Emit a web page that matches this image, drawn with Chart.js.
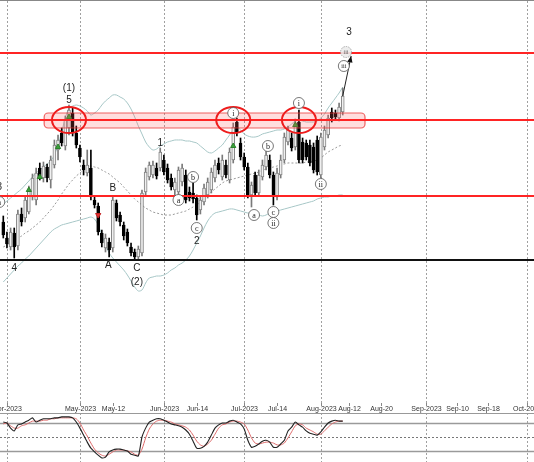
<!DOCTYPE html>
<html>
<head>
<meta charset="utf-8">
<script src="https://cdn.jsdelivr.net/npm/chart.js@4.4.0/dist/chart.umd.min.js"></script>
<style>
  html, body { margin: 0; padding: 0; background: #fff; overflow: hidden; }
  #wrap { position: relative; width: 534px; height: 462px; }
  #main { position: absolute; left: 0; top: 0; }
  #osc { position: absolute; left: 0; top: 413px; }
</style>
</head>
<body>
<div id="wrap">
  <canvas id="main" width="534" height="413"></canvas>
  <canvas id="osc" width="534" height="49"></canvas>
</div>
<script>
// daily candles, price in chart units (no price scale shown in the picture)
var openV  = [181,165,156,170,157,189,185,191,206,203, 235,225,236,223,238,253,270,257,275,290,
              270,255,238,230,235,203,197,170,155,161, 155,200,188,178,171,156,151,146,150,211,
              226,228,235,235,243,235,225,213,211,221, 228,211,210,205,193,201,208,213,225,240,
              226,238,223,243,281,260,246,236,208,228, 210,226,236,243,228,206,228,243,261,265,
              256,281,261,260,258,256,263,228,256,268, 291,290,285,291];
var highV  = [187,171,175,175,193,195,207,217,229,235, 240,241,239,247,263,268,275,287,298,295,
              277,258,243,253,253,206,200,173,169,165, 207,203,191,181,174,160,154,157,213,235,
              241,242,240,255,248,239,229,225,236,239, 233,216,220,208,207,219,225,235,243,245,
              248,243,255,280,285,265,250,240,221,231, 233,243,253,248,231,235,248,270,277,270,
              284,293,265,263,263,260,267,270,277,288, 295,293,300,315];
var lowV   = [165,155,153,145,153,177,181,189,203,198, 223,221,221,215,235,243,257,253,268,267,
              255,241,228,227,203,195,168,156,151,146, 151,182,177,163,157,147,143,143,147,208,
              223,225,224,232,228,220,213,208,207,217, 200,202,200,183,189,198,205,210,221,229,
              223,225,220,240,267,243,233,205,196,207, 207,223,233,225,198,203,225,240,258,252,
              253,240,240,243,237,230,228,225,253,265, 281,283,282,288];
var closeV = [168,159,171,156,189,181,203,213,225,230, 227,237,225,243,258,263,260,283,293,270,
              258,246,233,238,206,198,171,160,165,153, 203,185,181,167,160,150,146,154,210,231,
              238,238,227,251,231,223,216,221,233,235, 203,205,204,188,203,215,221,231,238,233,
              243,228,251,276,271,246,236,208,218,210, 228,238,248,228,208,230,243,266,273,255,
              280,243,243,246,240,233,231,266,273,285, 285,286,296,307];

// bollinger bands
var bbUpper  = [199,202,205,208,211,214,218,222,226,230, 233,236,239,242,248,258,271,285,295,297,
                298,297,295,292,288,290,293,298,302,305, 308,308,306,304,300,294,286,277,269,261,
                256,253,254,257,259,261,262,263,263,263, 262,262,261,260,257,254,251,250,252,255,
                258,263,268,273,276,273,269,267,266,266, 267,269,270,271,272,273,273,274,276,279,
                282,283,282,281,281,281,282,285,289,295, 300,305,310,316];
var bbMiddle = [156,158,160,162,165,167,170,172,175,178, 181,185,189,193,198,203,209,214,219,223,
                227,230,233,236,237,236,235,233,231,229, 226,223,220,216,212,208,204,201,198,195,
                193,191,190,189,188,188,188,189,190,191, 192,194,196,198,201,205,208,211,214,217,
                220,222,223,224,225,226,227,228,229,230, 231,233,234,235,236,237,238,239,240,240,
                240,240,240,241,241,242,243,245,248,251, 253,255,257,258];
var bbLower  = [121,125,129,133,137,140,144,147,151,155, 159,163,167,171,174,176,178,179,180,181,
                182,183,184,185,186,184,178,168,158,150, 145,141,137,133,128,122,116,112,113,120,
                125,126,127,127,128,130,133,135,138,140, 143,147,153,160,167,175,182,187,190,191,
                192,193,194,194,193,192,191,190,190,189, 188,187,188,190,191,192,193,194,195,196,
                197,198,199,200,201,202,204,205,206,206, 207,207,208,208];

// stochastic oscillator
var stochK = [82,80,69,63,76,78,82,86,91,82, 86,89,89,89,91,91,93,93,93,91,
              82,69,54,39,26,18,11,5,7,18, 22,24,24,22,20,13,11,9,50,69,
              82,86,89,89,86,82,78,76,74,71, 65,56,41,26,26,30,39,54,69,76,
              80,80,84,86,82,78,67,43,28,30, 35,41,43,39,28,28,35,43,63,71,
              82,76,71,63,58,56,54,61,71,80, 84,86,84,84];
var stochD = [78,80,74,69,69,74,76,80,84,84, 84,86,86,89,89,91,91,91,91,91,
              89,80,65,52,37,24,16,11,9,13, 18,22,22,22,20,18,13,11,24,48,
              67,78,84,86,86,84,82,78,76,74, 71,65,54,41,33,30,35,43,56,69,
              76,78,82,84,84,82,78,65,48,37, 35,37,39,39,37,33,33,37,48,61,
              74,78,76,69,65,61,56,56,63,71, 78,82,84,84];
var stochLevels = [80, 50, 20];

// date axis (bar index units, future dates continue past the last bar)
var tickPos  = [1, 21, 30, 44, 53, 66, 75, 87, 94.7, 103.5, 115.8, 124.3, 132.8, 143.5];
var tickText = ['Apr-2023','May-2023','May-12','Jun-2023','Jun-14','Jul-2023','Jul-14',
                'Aug-2023','Aug-12','Aug-20','Sep-2023','Sep-10','Sep-18','Oct-2023'];
var monthPos = [1, 21, 44, 66, 87, 115.8, 143.5];

// levels and zone
var resistLevels = [350, 283, 207];
var supportLevels = [143];
var zoneFrom = 11.2, zoneTo = 99.1, zoneHigh = 290, zoneLow = 275;
var ellipseBars = [18, 63, 81];
var ellipseLevel = 283;

// signals
var buyMarks  = [{x: 7, y: 213}, {x: 10, y: 226}, {x: 15, y: 256}, {x: 18, y: 286}, {x: 63, y: 257}, {x: 80, y: 278}];
var sellMarks = [{x: 26, y: 188}];
var projection = [{x: 93, y: 307}, {x: 95.3, y: 347}];

// wave count labels
var waveLabels = [
  {t: '(1)', x: 18, y: 315}, {t: '5', x: 18, y: 303}, {t: '4', x: 3, y: 135},
  {t: 'A', x: 28.8, y: 138}, {t: 'B', x: 30, y: 215}, {t: 'C', x: 36.6, y: 135},
  {t: '(2)', x: 36.6, y: 121}, {t: '1', x: 43, y: 260}, {t: '2', x: 53, y: 162},
  {t: '3', x: 94.7, y: 371}, {t: '3', x: -1.1, y: 216}
];
var circleLabels = [
  {t: 'a', x: 48, y: 203}, {t: 'b', x: 52, y: 226}, {t: 'c', x: 53, y: 175},
  {t: 'i', x: 63, y: 290}, {t: 'a', x: 68.7, y: 188}, {t: 'b', x: 72.5, y: 257},
  {t: 'c', x: 74, y: 191}, {t: 'ii', x: 74, y: 180}, {t: 'i', x: 81, y: 300},
  {t: 'ii', x: 87, y: 219}, {t: 'iii', x: 93.3, y: 337}, {t: 'iii', x: 93.9, y: 351, faint: true},
  {t: 'a', x: -1.1, y: 201}
];

var xMin = -0.9, xMax = 145.4;

var isUp = openV.map(function (o, i) { return closeV[i] >= o; });
function pts(arr) { return arr.map(function (v, i) { return {x: i, y: v}; }); }

function drawMonthLines(chart) {
  var ctx = chart.ctx, a = chart.chartArea, x = chart.scales.x;
  ctx.save();
  ctx.strokeStyle = '#a0a0a0';
  ctx.lineWidth = 1;
  ctx.setLineDash([2, 2]);
  monthPos.forEach(function (m) {
    var px = Math.round(x.getPixelForValue(m)) + 0.5;
    ctx.beginPath();
    ctx.moveTo(px, a.top);
    ctx.lineTo(px, a.bottom);
    ctx.stroke();
  });
  ctx.restore();
}

var mainOverlay = {
  id: 'mainOverlay',
  beforeDatasetsDraw: function (chart) {
    var ctx = chart.ctx;
    drawMonthLines(chart);
    ctx.save();
    ctx.strokeStyle = '#888';
    ctx.lineWidth = 1;
    ctx.beginPath();
    ctx.moveTo(0, 0.5);
    ctx.lineTo(chart.width, 0.5);
    ctx.stroke();
    ctx.restore();
  },
  afterDatasetsDraw: function (chart) {
    var ctx = chart.ctx, a = chart.chartArea, x = chart.scales.x, y = chart.scales.y;
    ctx.save();

    // zone box
    var zx1 = x.getPixelForValue(zoneFrom), zx2 = x.getPixelForValue(zoneTo);
    var zy1 = y.getPixelForValue(zoneHigh), zy2 = y.getPixelForValue(zoneLow);
    ctx.beginPath();
    ctx.roundRect(zx1, zy1, zx2 - zx1, zy2 - zy1, 4);
    ctx.fillStyle = 'rgba(255,90,90,0.2)';
    ctx.fill();
    ctx.strokeStyle = 'rgba(235,50,50,0.75)';
    ctx.lineWidth = 1.2;
    ctx.stroke();

    // horizontal levels
    ctx.lineWidth = 2;
    ctx.strokeStyle = '#ff2424';
    resistLevels.forEach(function (lv) {
      var py = Math.round(y.getPixelForValue(lv));
      ctx.beginPath(); ctx.moveTo(a.left, py); ctx.lineTo(a.right, py); ctx.stroke();
    });
    ctx.strokeStyle = '#111';
    supportLevels.forEach(function (lv) {
      var py = Math.round(y.getPixelForValue(lv));
      ctx.beginPath(); ctx.moveTo(a.left, py); ctx.lineTo(a.right, py); ctx.stroke();
    });

    // ellipses
    ctx.strokeStyle = '#ee1c1c';
    ctx.lineWidth = 2;
    ellipseBars.forEach(function (b) {
      ctx.beginPath();
      ctx.ellipse(x.getPixelForValue(b), y.getPixelForValue(ellipseLevel), 17, 13, 0, 0, Math.PI * 2);
      ctx.stroke();
    });

    // arrow head of the projection
    var p0 = projection[projection.length - 2], p1 = projection[projection.length - 1];
    var ax0 = x.getPixelForValue(p0.x), ay0 = y.getPixelForValue(p0.y);
    var ax1 = x.getPixelForValue(p1.x), ay1 = y.getPixelForValue(p1.y);
    var ang = Math.atan2(ay1 - ay0, ax1 - ax0);
    ctx.fillStyle = '#111';
    ctx.beginPath();
    ctx.moveTo(ax1, ay1);
    ctx.lineTo(ax1 - 7 * Math.cos(ang - 0.4), ay1 - 7 * Math.sin(ang - 0.4));
    ctx.lineTo(ax1 - 7 * Math.cos(ang + 0.4), ay1 - 7 * Math.sin(ang + 0.4));
    ctx.closePath();
    ctx.fill();

    // wave labels
    ctx.fillStyle = '#222';
    ctx.font = '10px "Liberation Sans", Arial, sans-serif';
    ctx.textAlign = 'center';
    ctx.textBaseline = 'middle';
    waveLabels.forEach(function (l) {
      ctx.fillText(l.t, x.getPixelForValue(l.x), y.getPixelForValue(l.y));
    });

    // circled labels
    circleLabels.forEach(function (l) {
      var cx = x.getPixelForValue(l.x), cy = y.getPixelForValue(l.y);
      ctx.beginPath();
      ctx.arc(cx, cy, 5.5, 0, Math.PI * 2);
      ctx.fillStyle = l.faint ? 'rgba(235,235,235,0.9)' : '#fff';
      ctx.fill();
      ctx.setLineDash(l.faint ? [1.5, 1] : []);
      ctx.strokeStyle = l.faint ? '#999' : '#555';
      ctx.lineWidth = 0.8;
      ctx.stroke();
      ctx.setLineDash([]);
      ctx.fillStyle = l.faint ? '#666' : '#222';
      ctx.font = (l.t.length > 2 ? '6px' : '8px') + ' "Liberation Serif", serif';
      ctx.fillText(l.t, cx, cy + 0.5);
    });

    ctx.restore();
  },
  afterDraw: function (chart) {
    // date axis under the price panel
    var ctx = chart.ctx, a = chart.chartArea, x = chart.scales.x;
    ctx.save();
    ctx.strokeStyle = '#888';
    ctx.lineWidth = 1;
    ctx.fillStyle = '#333';
    ctx.font = '7px "Liberation Sans", Arial, sans-serif';
    ctx.textAlign = 'center';
    ctx.textBaseline = 'middle';
    tickPos.forEach(function (v, k) {
      var px = Math.round(x.getPixelForValue(v)) + 0.5;
      ctx.beginPath(); ctx.moveTo(px, a.bottom); ctx.lineTo(px, a.bottom + 3); ctx.stroke();
      ctx.fillText(tickText[k], px, a.bottom + 6.5);
    });
    ctx.restore();
  }
};

new Chart(document.getElementById('main'), {
  type: 'bar',
  data: {
    datasets: [
      {
        label: 'body',
        data: openV.map(function (o, i) { return {x: i, y: [o, closeV[i]]}; }),
        backgroundColor: isUp.map(function (u) { return u ? '#f0f0f0' : '#000'; }),
        borderColor: isUp.map(function (u) { return u ? '#808080' : '#000'; }),
        borderWidth: 1,
        borderSkipped: false,
        barThickness: 3,
        grouped: false,
        order: 1
      },
      {
        label: 'wick',
        data: lowV.map(function (l, i) { return {x: i, y: [l, highV[i]]}; }),
        backgroundColor: isUp.map(function (u) { return u ? '#7a7a7a' : '#000'; }),
        borderWidth: 0,
        barThickness: 1,
        grouped: false,
        order: 2
      },
      {
        type: 'line', label: 'upper', data: pts(bbUpper),
        borderColor: '#a7c7c7', borderWidth: 1, pointRadius: 0, tension: 0.3, order: 3
      },
      {
        type: 'line', label: 'middle', data: pts(bbMiddle),
        borderColor: '#9a9a9a', borderWidth: 1, borderDash: [2, 2], pointRadius: 0, tension: 0.3, order: 3
      },
      {
        type: 'line', label: 'lower', data: pts(bbLower),
        borderColor: '#a7c7c7', borderWidth: 1, pointRadius: 0, tension: 0.3, order: 3
      },
      {
        type: 'line', label: 'projection', data: projection,
        borderColor: '#222', borderWidth: 1, pointRadius: 0, order: 0
      },
      {
        type: 'line', label: 'buy', data: buyMarks, showLine: false,
        pointStyle: 'triangle', pointRadius: 3, backgroundColor: '#3aa03a', borderColor: '#2a802a',
        borderWidth: 1, order: 0
      },
      {
        type: 'line', label: 'sell', data: sellMarks, showLine: false,
        pointStyle: 'triangle', rotation: 180, pointRadius: 3, backgroundColor: '#e03030', borderColor: '#c02020',
        borderWidth: 1, order: 0
      }
    ]
  },
  options: {
    responsive: false,
    animation: false,
    layout: { autoPadding: false, padding: { top: 1, left: 0, right: 0, bottom: 10 } },
    plugins: { legend: { display: false }, tooltip: { enabled: false } },
    scales: {
      x: { type: 'linear', display: false, min: xMin, max: xMax, offset: false },
      y: { display: false, min: 0, max: 402 }
    }
  },
  plugins: [mainOverlay]
});

var oscOverlay = {
  id: 'oscOverlay',
  beforeDatasetsDraw: function (chart) {
    var ctx = chart.ctx, a = chart.chartArea, y = chart.scales.y;
    drawMonthLines(chart);
    ctx.save();
    stochLevels.forEach(function (lv) {
      var py = Math.round(y.getPixelForValue(lv)) + 0.5;
      ctx.setLineDash(lv === 50 ? [2, 2] : []);
      ctx.strokeStyle = lv === 50 ? '#777' : '#9a9a9a';
      ctx.lineWidth = lv === 50 ? 1 : 1.5;
      ctx.beginPath(); ctx.moveTo(a.left, py); ctx.lineTo(a.right, py); ctx.stroke();
    });
    ctx.setLineDash([]);
    ctx.strokeStyle = '#999';
    ctx.lineWidth = 1;
    ctx.beginPath(); ctx.moveTo(0, 0.5); ctx.lineTo(chart.width, 0.5); ctx.stroke();
    ctx.restore();
  }
};

new Chart(document.getElementById('osc'), {
  type: 'line',
  data: {
    datasets: [
      { label: '%K', data: pts(stochK), borderColor: '#222', borderWidth: 1.1, pointRadius: 0, tension: 0.2 },
      { label: '%D', data: pts(stochD), borderColor: '#dd6a6a', borderWidth: 1, pointRadius: 0, tension: 0.2 }
    ]
  },
  options: {
    responsive: false,
    animation: false,
    layout: { autoPadding: false, padding: 0 },
    plugins: { legend: { display: false }, tooltip: { enabled: false } },
    scales: {
      x: { type: 'linear', display: false, min: xMin, max: xMax },
      y: { display: false, min: -3.6, max: 101.4 }
    }
  },
  plugins: [oscOverlay]
});
</script>
</body>
</html>
